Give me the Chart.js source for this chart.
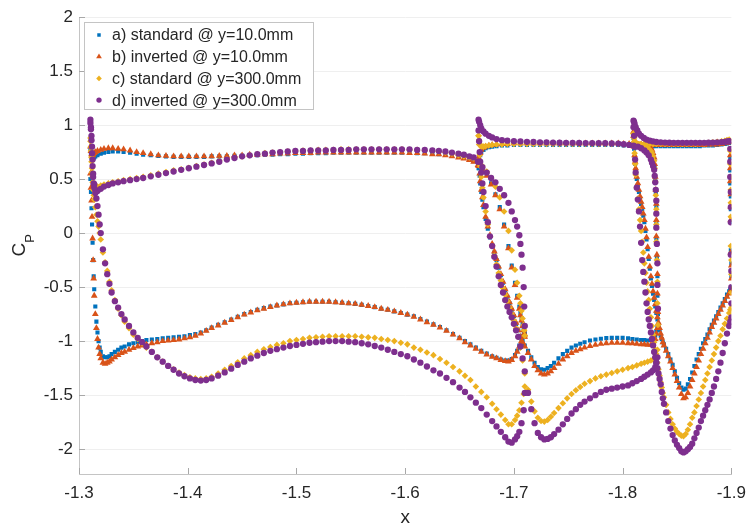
<!DOCTYPE html>
<html>
<head>
<meta charset="utf-8">
<title>Cp distribution</title>
<script src="https://cdn.jsdelivr.net/npm/chart.js@4.4.1/dist/chart.umd.min.js"></script>
<style>
  html, body { margin: 0; padding: 0; background: #ffffff; }
  #wrap { position: relative; width: 755px; height: 529px; }
</style>
</head>
<body>
<div id="wrap"><canvas id="cpChart"></canvas></div>
<script>
// Series names, colours and tick labels
const seriesLabels = [
  "a) standard @ y=10.0mm",
  "b) inverted @ y=10.0mm",
  "c) standard @ y=300.0mm",
  "d) inverted @ y=300.0mm",
];
const seriesColors = ["#0072BD", "#D95319", "#EDB120", "#7E2F8E"];
const xTicks = [-1.3, -1.4, -1.5, -1.6, -1.7, -1.8, -1.9];
const yTicks = [2, 1.5, 1, 0.5, 0, -0.5, -1, -1.5, -2];

// Main element, pressure side (upper branch in the plot)
const xMainUpper = [
  -1.3105, -1.311, -1.3115, -1.312, -1.3125, -1.313, -1.314, -1.315, -1.317, -1.320,
  -1.323, -1.327, -1.331, -1.336, -1.341, -1.347, -1.353, -1.359, -1.366, -1.373,
  -1.380, -1.387, -1.394, -1.401, -1.408, -1.415, -1.422, -1.429, -1.436, -1.443,
  -1.450, -1.457, -1.464, -1.471, -1.478, -1.485, -1.492, -1.499, -1.506, -1.513,
  -1.520, -1.527, -1.534, -1.541, -1.548, -1.555, -1.562, -1.569, -1.576, -1.583,
  -1.590, -1.597, -1.604, -1.611, -1.618, -1.625, -1.631, -1.637, -1.643, -1.649,
  -1.654, -1.659, -1.663, -1.667, -1.671, -1.675, -1.679, -1.683, -1.687, -1.691,
  -1.695, -1.698, -1.701, -1.703, -1.705, -1.706, -1.707, -1.708, -1.709, -1.7095, -1.710,
];
const cpA_mainUpper = [
  0.78, 0.74, 0.70, 0.68, 0.68, 0.69, 0.70, 0.71, 0.72, 0.735,
  0.745, 0.75, 0.755, 0.755, 0.75, 0.745, 0.735, 0.725, 0.72, 0.715,
  0.71, 0.705, 0.705, 0.705, 0.705, 0.705, 0.71, 0.71, 0.71, 0.715,
  0.715, 0.72, 0.72, 0.725, 0.725, 0.73, 0.73, 0.735, 0.735, 0.74,
  0.74, 0.74, 0.745, 0.745, 0.745, 0.745, 0.745, 0.745, 0.745, 0.745,
  0.745, 0.745, 0.745, 0.74, 0.74, 0.735, 0.73, 0.725, 0.715, 0.705,
  0.695, 0.68, 0.665, 0.64, 0.60, 0.54, 0.46, 0.36, 0.24, 0.08,
  -0.12, -0.30, -0.46, -0.58, -0.68, -0.74, -0.79, -0.84, -0.88, -0.91, -0.94,
];
const cpB_mainUpper = [
  0.80, 0.76, 0.73, 0.72, 0.72, 0.73, 0.74, 0.75, 0.76, 0.77,
  0.78, 0.785, 0.785, 0.78, 0.775, 0.765, 0.75, 0.74, 0.73, 0.72,
  0.715, 0.71, 0.71, 0.71, 0.71, 0.71, 0.71, 0.715, 0.715, 0.72,
  0.72, 0.725, 0.725, 0.73, 0.73, 0.735, 0.735, 0.74, 0.74, 0.74,
  0.745, 0.745, 0.745, 0.745, 0.745, 0.745, 0.745, 0.745, 0.745, 0.745,
  0.745, 0.745, 0.74, 0.74, 0.735, 0.73, 0.73, 0.72, 0.71, 0.70,
  0.69, 0.675, 0.66, 0.63, 0.59, 0.53, 0.45, 0.35, 0.22, 0.06,
  -0.14, -0.32, -0.48, -0.60, -0.70, -0.76, -0.81, -0.86, -0.90, -0.93, -0.96,
];
const cpC_mainUpper = [
  0.88, 0.80, 0.70, 0.60, 0.52, 0.47, 0.44, 0.43, 0.43, 0.44,
  0.45, 0.46, 0.47, 0.48, 0.49, 0.50, 0.51, 0.52, 0.535, 0.55,
  0.565, 0.58, 0.59, 0.605, 0.62, 0.635, 0.65, 0.67, 0.685, 0.70,
  0.71, 0.72, 0.73, 0.74, 0.745, 0.75, 0.755, 0.76, 0.765, 0.765,
  0.77, 0.77, 0.77, 0.775, 0.775, 0.775, 0.775, 0.775, 0.775, 0.775,
  0.775, 0.775, 0.77, 0.77, 0.765, 0.76, 0.755, 0.745, 0.735, 0.72,
  0.71, 0.70, 0.69, 0.66, 0.62, 0.57, 0.51, 0.43, 0.33, 0.20,
  0.02, -0.16, -0.34, -0.46, -0.58, -0.65, -0.72, -0.79, -0.85, -0.90, -0.95,
];
const cpD_mainUpper = [
  1.05, 0.98, 0.90, 0.80, 0.68, 0.55, 0.45, 0.40, 0.39, 0.41,
  0.43, 0.445, 0.46, 0.47, 0.48, 0.49, 0.50, 0.51, 0.525, 0.54,
  0.555, 0.57, 0.585, 0.60, 0.615, 0.63, 0.645, 0.66, 0.68, 0.695,
  0.71, 0.72, 0.73, 0.735, 0.745, 0.75, 0.755, 0.76, 0.76, 0.765,
  0.765, 0.765, 0.77, 0.77, 0.77, 0.775, 0.775, 0.775, 0.775, 0.775,
  0.775, 0.775, 0.775, 0.77, 0.77, 0.765, 0.76, 0.755, 0.745, 0.735,
  0.725, 0.71, 0.70, 0.66, 0.61, 0.56, 0.51, 0.47, 0.41, 0.35,
  0.28, 0.20, 0.12, 0.06, -0.02, -0.10, -0.20, -0.32, -0.50, -0.68, -0.86,
];

// Main element, suction side (lower branch)
const xMainLower = [
  -1.3105, -1.311, -1.3115, -1.312, -1.3125, -1.313, -1.3135, -1.314, -1.315, -1.316,
  -1.317, -1.318, -1.319, -1.320, -1.322, -1.324, -1.326, -1.328, -1.330, -1.333,
  -1.336, -1.339, -1.342, -1.346, -1.350, -1.354, -1.358, -1.362, -1.367, -1.372,
  -1.377, -1.382, -1.387, -1.392, -1.397, -1.402, -1.407, -1.412, -1.417, -1.422,
  -1.428, -1.434, -1.440, -1.446, -1.452, -1.458, -1.464, -1.470, -1.476, -1.482,
  -1.488, -1.494, -1.500, -1.506, -1.512, -1.518, -1.524, -1.530, -1.536, -1.542,
  -1.548, -1.554, -1.560, -1.566, -1.572, -1.578, -1.584, -1.590, -1.596, -1.602,
  -1.608, -1.614, -1.620, -1.626, -1.632, -1.638, -1.644, -1.650, -1.655, -1.660,
  -1.665, -1.670, -1.675, -1.680, -1.684, -1.688, -1.692, -1.695, -1.698, -1.701,
  -1.703, -1.705, -1.707, -1.709, -1.710,
];
const cpA_mainLower = [
  0.50, 0.38, 0.23, 0.08, -0.09, -0.25, -0.40, -0.52, -0.68, -0.82,
  -0.92, -1.00, -1.06, -1.10, -1.14, -1.15, -1.15, -1.14, -1.12, -1.10,
  -1.08, -1.06, -1.05, -1.03, -1.02, -1.01, -1.0, -0.99, -0.985, -0.98,
  -0.975, -0.97, -0.965, -0.96, -0.955, -0.945, -0.935, -0.92, -0.90, -0.875,
  -0.85, -0.825, -0.80, -0.775, -0.75, -0.73, -0.71, -0.695, -0.68, -0.67,
  -0.66, -0.65, -0.645, -0.64, -0.635, -0.635, -0.635, -0.635, -0.64, -0.645,
  -0.65, -0.655, -0.665, -0.675, -0.685, -0.70, -0.71, -0.725, -0.74, -0.755,
  -0.77, -0.795, -0.82, -0.845, -0.87, -0.90, -0.935, -0.97, -1.0, -1.03,
  -1.06, -1.09, -1.115, -1.14, -1.155, -1.17, -1.18, -1.18, -1.165, -1.13,
  -1.09, -1.04, -0.99, -0.95, -0.93,
];
const cpB_mainLower = [
  0.55, 0.42, 0.30, 0.15, -0.05, -0.25, -0.42, -0.58, -0.75, -0.88,
  -0.98, -1.06, -1.12, -1.16, -1.20, -1.21, -1.20, -1.19, -1.17, -1.15,
  -1.13, -1.11, -1.10, -1.08, -1.065, -1.05, -1.04, -1.03, -1.02, -1.01,
  -1.0, -0.995, -0.99, -0.985, -0.975, -0.965, -0.95, -0.93, -0.905, -0.88,
  -0.855, -0.83, -0.805, -0.78, -0.755, -0.735, -0.715, -0.70, -0.685, -0.67,
  -0.66, -0.65, -0.645, -0.64, -0.635, -0.635, -0.635, -0.635, -0.64, -0.645,
  -0.65, -0.655, -0.665, -0.675, -0.685, -0.70, -0.71, -0.725, -0.74, -0.755,
  -0.775, -0.80, -0.825, -0.85, -0.875, -0.905, -0.94, -0.975, -1.01, -1.04,
  -1.07, -1.10, -1.125, -1.145, -1.16, -1.175, -1.185, -1.19, -1.175, -1.14,
  -1.10, -1.05, -1.00, -0.96, -0.94,
];
const cpC_mainLower = [
  0.85, 0.76, 0.66, 0.56, 0.47, 0.40, 0.35, 0.31, 0.24, 0.17,
  0.11, 0.06, 0.0, -0.06, -0.18, -0.27, -0.35, -0.45, -0.53, -0.62,
  -0.70, -0.76, -0.82, -0.88, -0.94, -0.98, -1.02, -1.06, -1.10, -1.15,
  -1.19, -1.23, -1.26, -1.29, -1.315, -1.335, -1.345, -1.35, -1.345, -1.33,
  -1.30, -1.265, -1.23, -1.195, -1.16, -1.13, -1.10, -1.075, -1.055, -1.035,
  -1.02, -1.0, -0.99, -0.98, -0.97, -0.965, -0.96, -0.955, -0.955, -0.955,
  -0.955, -0.955, -0.96, -0.965, -0.97, -0.98, -0.99, -1.0, -1.015, -1.03,
  -1.06, -1.08, -1.105, -1.13, -1.165, -1.20, -1.24, -1.28, -1.32, -1.36,
  -1.42, -1.47, -1.52, -1.58, -1.63, -1.68, -1.73, -1.77, -1.77, -1.73,
  -1.69, -1.64, -1.57, -1.49, -1.42,
];
const cpD_mainLower = [
  1.02, 0.96, 0.86, 0.74, 0.62, 0.52, 0.46, 0.42, 0.37, 0.32,
  0.25, 0.17, 0.08, 0.0, -0.15, -0.28, -0.38, -0.47, -0.55, -0.63,
  -0.69, -0.75, -0.80, -0.86, -0.92, -0.97, -1.01, -1.05, -1.10, -1.15,
  -1.19, -1.23, -1.265, -1.30, -1.325, -1.345, -1.36, -1.365, -1.36, -1.345,
  -1.32, -1.29, -1.255, -1.22, -1.19, -1.16, -1.135, -1.11, -1.09, -1.075,
  -1.06, -1.045, -1.035, -1.025, -1.015, -1.01, -1.005, -1.0, -1.0, -1.0,
  -1.005, -1.01, -1.02, -1.03, -1.045, -1.06, -1.08, -1.10, -1.12, -1.14,
  -1.17, -1.20, -1.235, -1.27, -1.30, -1.34, -1.38, -1.43, -1.47, -1.52,
  -1.57, -1.62, -1.68, -1.74, -1.79, -1.84, -1.89, -1.93, -1.94, -1.91,
  -1.88, -1.84, -1.76, -1.64, -1.48,
];

// First flap, pressure side
const xFlap1Upper = [
  -1.6675, -1.668, -1.669, -1.670, -1.672, -1.674, -1.677, -1.680, -1.684, -1.689,
  -1.694, -1.700, -1.706, -1.712, -1.718, -1.724, -1.730, -1.736, -1.742, -1.748,
  -1.754, -1.760, -1.766, -1.772, -1.778, -1.784, -1.790, -1.796, -1.801, -1.806,
  -1.810, -1.814, -1.817, -1.820, -1.822, -1.824, -1.826, -1.827, -1.828, -1.829,
  -1.8295, -1.830, -1.8305, -1.831, -1.831, -1.831, -1.8315, -1.832, -1.832, -1.8325,
];
const cpA_flap1Upper = [
  0.60, 0.66, 0.72, 0.75, 0.77, 0.785, 0.795, 0.80, 0.805, 0.81,
  0.81, 0.815, 0.815, 0.815, 0.815, 0.815, 0.815, 0.815, 0.815, 0.815,
  0.815, 0.815, 0.815, 0.815, 0.815, 0.815, 0.815, 0.815, 0.81, 0.81,
  0.81, 0.81, 0.805, 0.80, 0.795, 0.79, 0.78, 0.76, 0.73, 0.69,
  0.62, 0.50, 0.38, 0.25, 0.10, -0.05, -0.22, -0.40, -0.58, -0.75,
];
const cpB_flap1Upper = [
  0.62, 0.68, 0.74, 0.77, 0.79, 0.80, 0.81, 0.815, 0.82, 0.825,
  0.825, 0.83, 0.83, 0.83, 0.83, 0.83, 0.83, 0.83, 0.83, 0.83,
  0.83, 0.83, 0.83, 0.83, 0.83, 0.83, 0.83, 0.83, 0.825, 0.825,
  0.825, 0.82, 0.82, 0.815, 0.81, 0.80, 0.79, 0.77, 0.74, 0.70,
  0.64, 0.52, 0.40, 0.27, 0.12, -0.03, -0.20, -0.38, -0.56, -0.73,
];
const cpC_flap1Upper = [
  0.90, 0.86, 0.82, 0.80, 0.80, 0.805, 0.81, 0.815, 0.82, 0.82,
  0.825, 0.825, 0.825, 0.825, 0.825, 0.825, 0.825, 0.825, 0.825, 0.825,
  0.825, 0.825, 0.825, 0.825, 0.825, 0.825, 0.825, 0.825, 0.82, 0.82,
  0.82, 0.815, 0.81, 0.80, 0.79, 0.78, 0.76, 0.74, 0.71, 0.67,
  0.60, 0.48, 0.35, 0.22, 0.08, -0.08, -0.25, -0.45, -0.65, -0.85,
];
const cpD_flap1Upper = [
  1.05, 1.03, 1.0, 0.97, 0.94, 0.92, 0.90, 0.885, 0.87, 0.86,
  0.855, 0.85, 0.848, 0.845, 0.843, 0.84, 0.84, 0.838, 0.836, 0.835,
  0.835, 0.834, 0.833, 0.833, 0.832, 0.832, 0.83, 0.828, 0.822, 0.816,
  0.81, 0.80, 0.785, 0.765, 0.745, 0.72, 0.68, 0.65, 0.62, 0.585,
  0.53, 0.47, 0.40, 0.30, 0.18, 0.05, -0.10, -0.28, -0.48, -0.70,
];

// First flap, suction side
const xFlap1Lower = [
  -1.6675, -1.668, -1.6685, -1.669, -1.670, -1.671, -1.672, -1.674, -1.676, -1.678,
  -1.680, -1.682, -1.684, -1.686, -1.688, -1.690, -1.692, -1.694, -1.696, -1.698,
  -1.700, -1.702, -1.704, -1.706, -1.708, -1.710, -1.713, -1.716, -1.719, -1.722,
  -1.725, -1.728, -1.731, -1.734, -1.737, -1.741, -1.745, -1.749, -1.753, -1.757,
  -1.761, -1.765, -1.770, -1.775, -1.780, -1.785, -1.790, -1.795, -1.800, -1.805,
  -1.809, -1.813, -1.817, -1.820, -1.823, -1.826, -1.828, -1.830, -1.831, -1.832,
];
const cpA_flap1Lower = [
  0.68, 0.60, 0.53, 0.46, 0.38, 0.31, 0.24, 0.13, 0.04, -0.04,
  -0.11, -0.18, -0.25, -0.32, -0.39, -0.46, -0.53, -0.59, -0.65, -0.71,
  -0.77, -0.84, -0.90, -0.95, -1.0, -1.04, -1.09, -1.15, -1.20, -1.24,
  -1.26, -1.265, -1.25, -1.23, -1.20, -1.16, -1.12, -1.09, -1.06, -1.04,
  -1.025, -1.01, -0.995, -0.985, -0.978, -0.972, -0.97, -0.97, -0.97, -0.975,
  -0.98, -0.985, -0.99, -0.99, -0.995, -0.99, -0.975, -0.95, -0.91, -0.87,
];
const cpB_flap1Lower = [
  0.70, 0.62, 0.55, 0.48, 0.40, 0.33, 0.26, 0.15, 0.06, -0.02,
  -0.10, -0.17, -0.24, -0.31, -0.38, -0.45, -0.52, -0.58, -0.64, -0.70,
  -0.76, -0.83, -0.90, -0.96, -1.01, -1.05, -1.11, -1.17, -1.23, -1.27,
  -1.30, -1.31, -1.30, -1.28, -1.25, -1.21, -1.17, -1.14, -1.11, -1.09,
  -1.075, -1.06, -1.045, -1.035, -1.025, -1.02, -1.015, -1.015, -1.015, -1.02,
  -1.02, -1.025, -1.03, -1.03, -1.035, -1.035, -1.02, -0.98, -0.93, -0.88,
];
const cpC_flap1Lower = [
  0.90, 0.82, 0.72, 0.62, 0.52, 0.42, 0.33, 0.20, 0.08, -0.03,
  -0.12, -0.21, -0.29, -0.37, -0.44, -0.51, -0.57, -0.63, -0.69, -0.75,
  -0.81, -0.88, -0.96, -1.06, -1.18, -1.30, -1.45, -1.56, -1.65, -1.71,
  -1.74, -1.745, -1.73, -1.70, -1.665, -1.62, -1.575, -1.53, -1.49, -1.455,
  -1.425, -1.395, -1.37, -1.345, -1.325, -1.31, -1.295, -1.28, -1.265, -1.25,
  -1.24, -1.225, -1.21, -1.20, -1.19, -1.18, -1.17, -1.15, -1.12, -1.08,
];
const cpD_flap1Lower = [
  0.95, 0.85, 0.75, 0.66, 0.56, 0.46, 0.38, 0.25, 0.10, -0.03,
  -0.12, -0.22, -0.31, -0.40, -0.48, -0.55, -0.62, -0.68, -0.73, -0.78,
  -0.84, -0.90, -0.96, -1.05, -1.16, -1.28, -1.48, -1.63, -1.76, -1.85,
  -1.89, -1.91, -1.905, -1.89, -1.86, -1.82, -1.77, -1.72, -1.67, -1.63,
  -1.59, -1.56, -1.53, -1.50, -1.47, -1.45, -1.44, -1.43, -1.42, -1.41,
  -1.39, -1.37, -1.35, -1.33, -1.31, -1.29, -1.27, -1.24, -1.20, -1.15,
];

// Second flap, pressure side
const xFlap2Upper = [
  -1.8100, -1.8105, -1.811, -1.812, -1.8135, -1.815, -1.817, -1.8195, -1.822, -1.825,
  -1.828, -1.831, -1.835, -1.839, -1.843, -1.847, -1.851, -1.855, -1.859, -1.863,
  -1.867, -1.871, -1.875, -1.879, -1.883, -1.887, -1.891, -1.894, -1.896, -1.898,
  -1.899, -1.899, -1.899, -1.8995, -1.8995, -1.8995, -1.8995, -1.900, -1.900, -1.900,
];
const cpA_flap2Upper = [
  0.90, 0.86, 0.83, 0.81, 0.805, 0.805, 0.805, 0.805, 0.805, 0.805,
  0.805, 0.805, 0.805, 0.805, 0.805, 0.805, 0.805, 0.805, 0.805, 0.805,
  0.805, 0.805, 0.81, 0.81, 0.81, 0.815, 0.82, 0.825, 0.83, 0.835,
  0.70, 0.58, 0.46, 0.34, 0.22, 0.10, -0.16, -0.28, -0.40, -0.50,
];
const cpB_flap2Upper = [
  0.94, 0.90, 0.86, 0.83, 0.82, 0.815, 0.815, 0.815, 0.815, 0.815,
  0.815, 0.815, 0.815, 0.815, 0.815, 0.815, 0.815, 0.815, 0.815, 0.815,
  0.815, 0.815, 0.815, 0.82, 0.82, 0.82, 0.825, 0.83, 0.835, 0.84,
  0.72, 0.60, 0.48, 0.36, 0.24, 0.12, -0.18, -0.30, -0.42, -0.52,
];
const cpC_flap2Upper = [
  0.92, 0.88, 0.85, 0.83, 0.825, 0.825, 0.825, 0.825, 0.825, 0.825,
  0.825, 0.825, 0.825, 0.825, 0.825, 0.825, 0.825, 0.825, 0.825, 0.825,
  0.825, 0.83, 0.83, 0.835, 0.84, 0.845, 0.85, 0.855, 0.86, 0.865,
  0.76, 0.64, 0.52, 0.40, 0.28, 0.15, -0.12, -0.25, -0.38, -0.55,
];
const cpD_flap2Upper = [
  1.04, 1.03, 1.01, 0.98, 0.95, 0.92, 0.90, 0.88, 0.865, 0.855,
  0.848, 0.843, 0.84, 0.838, 0.836, 0.835, 0.835, 0.835, 0.835, 0.835,
  0.835, 0.835, 0.835, 0.836, 0.838, 0.84, 0.842, 0.845, 0.848, 0.85,
  0.78, 0.66, 0.52, 0.38, 0.24, 0.10, -0.20, -0.35, -0.50, -0.65,
];

// Second flap, suction side
const xFlap2Lower = [
  -1.8100, -1.8105, -1.811, -1.8115, -1.812, -1.813, -1.814, -1.815, -1.816, -1.817,
  -1.818, -1.819, -1.820, -1.821, -1.822, -1.823, -1.824, -1.825, -1.826, -1.827,
  -1.828, -1.829, -1.830, -1.831, -1.832, -1.833, -1.834, -1.835, -1.836, -1.837,
  -1.838, -1.840, -1.842, -1.844, -1.846, -1.848, -1.850, -1.852, -1.854, -1.856,
  -1.858, -1.860, -1.862, -1.864, -1.866, -1.868, -1.870, -1.872, -1.874, -1.876,
  -1.878, -1.880, -1.882, -1.884, -1.886, -1.888, -1.890, -1.892, -1.894, -1.896,
  -1.898, -1.899, -1.900,
];
const cpA_flap2Lower = [
  0.88, 0.78, 0.70, 0.64, 0.58, 0.50, 0.44, 0.38, 0.32, 0.27,
  0.22, 0.16, 0.10, 0.02, -0.06, -0.15, -0.24, -0.33, -0.42, -0.49,
  -0.56, -0.62, -0.68, -0.74, -0.80, -0.85, -0.90, -0.95, -0.98, -1.01,
  -1.03, -1.07, -1.12, -1.17, -1.22, -1.28, -1.34, -1.39, -1.43, -1.45,
  -1.44, -1.40, -1.35, -1.29, -1.23, -1.17, -1.12, -1.07, -1.02, -0.98,
  -0.94, -0.89, -0.85, -0.81, -0.77, -0.73, -0.69, -0.65, -0.61, -0.57,
  -0.54, -0.52, -0.50,
];
const cpB_flap2Lower = [
  0.90, 0.80, 0.72, 0.66, 0.60, 0.52, 0.46, 0.40, 0.34, 0.29,
  0.24, 0.18, 0.12, 0.04, -0.04, -0.13, -0.22, -0.31, -0.40, -0.47,
  -0.54, -0.60, -0.66, -0.72, -0.78, -0.83, -0.88, -0.93, -0.97, -1.01,
  -1.04, -1.09, -1.14, -1.19, -1.25, -1.31, -1.37, -1.43, -1.49, -1.53,
  -1.52, -1.48, -1.42, -1.36, -1.30, -1.24, -1.18, -1.12, -1.07, -1.02,
  -0.97, -0.92, -0.87, -0.83, -0.79, -0.75, -0.71, -0.67, -0.63, -0.59,
  -0.56, -0.54, -0.52,
];
const cpC_flap2Lower = [
  0.92, 0.84, 0.74, 0.64, 0.54, 0.42, 0.32, 0.22, 0.12, 0.02,
  -0.08, -0.18, -0.28, -0.37, -0.46, -0.54, -0.62, -0.70, -0.78, -0.86,
  -0.94, -1.01, -1.08, -1.14, -1.20, -1.26, -1.32, -1.38, -1.43, -1.48,
  -1.52, -1.59, -1.66, -1.72, -1.77, -1.81, -1.84, -1.86, -1.875, -1.88,
  -1.86, -1.82, -1.77, -1.71, -1.66, -1.60, -1.54, -1.48, -1.42, -1.36,
  -1.30, -1.24, -1.18, -1.12, -1.06, -1.0, -0.95, -0.89, -0.84, -0.79,
  -0.74, -0.71, -0.69,
];
const cpD_flap2Lower = [
  0.98, 0.90, 0.80, 0.68, 0.56, 0.42, 0.31, 0.20, 0.06, -0.09,
  -0.25, -0.36, -0.45, -0.55, -0.65, -0.73, -0.80, -0.86, -0.92, -0.98,
  -1.04, -1.10, -1.15, -1.20, -1.25, -1.30, -1.35, -1.40, -1.47, -1.53,
  -1.58, -1.66, -1.74, -1.81, -1.87, -1.92, -1.96, -1.99, -2.02, -2.03,
  -2.02, -2.0, -1.98, -1.95, -1.90, -1.85, -1.80, -1.74, -1.69, -1.64,
  -1.59, -1.54, -1.48, -1.42, -1.35, -1.28, -1.20, -1.11, -1.02, -0.93,
  -0.86, -0.82, -0.78,
];

// Join x positions with Cp values of one series, segment by segment
function buildSeries(segments) {
  const points = [];
  segments.forEach(([xs, ys]) => {
    if (xs.length !== ys.length) {
      console.warn("length mismatch", xs.length, ys.length);
    }
    xs.forEach((x, i) => {
      if (ys[i] !== undefined) points.push({ x: x, y: ys[i] });
    });
  });
  return points;
}

const markerStyles = [
  { pointStyle: "rect", radius: 2.9 },
  { pointStyle: "triangle", radius: 3.9 },
  { pointStyle: "rectRot", radius: 3.3 },
  { pointStyle: "circle", radius: 3.15 },
];

const seriesData = [
  buildSeries([
    [xMainUpper, cpA_mainUpper], [xMainLower, cpA_mainLower],
    [xFlap1Upper, cpA_flap1Upper], [xFlap1Lower, cpA_flap1Lower],
    [xFlap2Upper, cpA_flap2Upper], [xFlap2Lower, cpA_flap2Lower],
  ]),
  buildSeries([
    [xMainUpper, cpB_mainUpper], [xMainLower, cpB_mainLower],
    [xFlap1Upper, cpB_flap1Upper], [xFlap1Lower, cpB_flap1Lower],
    [xFlap2Upper, cpB_flap2Upper], [xFlap2Lower, cpB_flap2Lower],
  ]),
  buildSeries([
    [xMainUpper, cpC_mainUpper], [xMainLower, cpC_mainLower],
    [xFlap1Upper, cpC_flap1Upper], [xFlap1Lower, cpC_flap1Lower],
    [xFlap2Upper, cpC_flap2Upper], [xFlap2Lower, cpC_flap2Lower],
  ]),
  buildSeries([
    [xMainUpper, cpD_mainUpper], [xMainLower, cpD_mainLower],
    [xFlap1Upper, cpD_flap1Upper], [xFlap1Lower, cpD_flap1Lower],
    [xFlap2Upper, cpD_flap2Upper], [xFlap2Lower, cpD_flap2Lower],
  ]),
];

const FONT = '"Liberation Sans", Arial, Helvetica, sans-serif';
const TEXT_COLOR = "#262626";

// Draws a marker, using the Chart.js helper when it is there
function drawMarker(ctx, style, radius, x, y, color) {
  ctx.fillStyle = color;
  if (Chart.helpers && Chart.helpers.drawPoint) {
    Chart.helpers.drawPoint(ctx, { pointStyle: style, radius: radius, borderWidth: 0, rotation: 0 }, x, y);
    return;
  }
  ctx.beginPath();
  ctx.arc(x, y, radius, 0, Math.PI * 2);
  ctx.fill();
}

// Inner tick marks, Cp label and the boxed legend in the top-left corner
const matlabDecor = {
  id: "matlabDecor",
  beforeDatasetsDraw(chart) {
    const { ctx, chartArea, scales } = chart;
    ctx.save();
    ctx.strokeStyle = "#a8a8a8";
    ctx.lineWidth = 1;
    ctx.beginPath();
    scales.x.ticks.forEach((t) => {
      const px = Math.round(scales.x.getPixelForValue(t.value)) + 0.5;
      ctx.moveTo(px, chartArea.bottom);
      ctx.lineTo(px, chartArea.bottom - 6);
    });
    scales.y.ticks.forEach((t) => {
      const py = Math.round(scales.y.getPixelForValue(t.value)) + 0.5;
      ctx.moveTo(chartArea.left, py);
      ctx.lineTo(chartArea.left + 6, py);
    });
    ctx.stroke();
    ctx.restore();
  },
  afterDraw(chart) {
    const { ctx, chartArea } = chart;

    // y label: C with subscript P, rotated
    ctx.save();
    ctx.translate(25, (chartArea.top + chartArea.bottom) / 2);
    ctx.rotate(-Math.PI / 2);
    ctx.fillStyle = TEXT_COLOR;
    ctx.textBaseline = "alphabetic";
    ctx.textAlign = "left";
    ctx.font = "19px " + FONT;
    const cWidth = ctx.measureText("C").width;
    ctx.fillText("C", -11, 0);
    ctx.font = "13px " + FONT;
    ctx.fillText("P", -11 + cWidth, 9);
    ctx.restore();

    // legend
    const box = { x: 84.5, y: 22.5, w: 229, h: 87 };
    ctx.save();
    ctx.fillStyle = "#ffffff";
    ctx.fillRect(box.x, box.y, box.w, box.h);
    ctx.strokeStyle = "#c4c4c4";
    ctx.lineWidth = 1;
    ctx.strokeRect(box.x, box.y, box.w, box.h);
    ctx.font = "16px " + FONT;
    ctx.textBaseline = "middle";
    ctx.textAlign = "left";
    chart.data.datasets.forEach((ds, i) => {
      const cy = 35 + i * 21.7;
      const m = markerStyles[i];
      drawMarker(ctx, m.pointStyle, m.radius * 0.85, 99, cy, seriesColors[i]);
      ctx.fillStyle = TEXT_COLOR;
      ctx.fillText(ds.label, 112, cy + 1);
    });
    ctx.restore();
  },
};

document.addEventListener("DOMContentLoaded", () => {
  const canvas = document.getElementById("cpChart");
  const datasets = seriesLabels.map((label, i) => ({
    label: label,
    data: seriesData[i],
    pointStyle: markerStyles[i].pointStyle,
    pointRadius: markerStyles[i].radius,
    pointHoverRadius: markerStyles[i].radius,
    pointBackgroundColor: seriesColors[i],
    pointBorderWidth: 0,
    backgroundColor: seriesColors[i],
    showLine: false,
    order: seriesLabels.length - i, // last series drawn on top
  }));

  new Chart(canvas, {
    type: "scatter",
    data: { datasets: datasets },
    plugins: [matlabDecor],
    options: {
      responsive: true,
      maintainAspectRatio: false,
      animation: false,
      layout: { padding: { top: 17, right: 19, left: 0, bottom: 0 } },
      plugins: {
        legend: { display: false },
        tooltip: { enabled: false },
      },
      scales: {
        x: {
          type: "linear",
          reverse: true,
          min: -1.9,
          max: -1.3,
          afterBuildTicks: (axis) => {
            axis.ticks = xTicks.map((v) => ({ value: v }));
          },
          afterFit: (scale) => {
            scale.height = 55;
          },
          grid: { color: "rgba(0,0,0,0)", drawTicks: false },
          border: { display: true, color: "#c4c4c4", width: 1 },
          ticks: {
            padding: 9,
            color: TEXT_COLOR,
            font: { family: FONT, size: 17 },
            callback: (v) => Number(v).toFixed(1),
          },
          title: {
            display: true,
            text: "x",
            color: TEXT_COLOR,
            font: { family: FONT, size: 19 },
            padding: { top: 0, bottom: 0 },
          },
        },
        y: {
          type: "linear",
          min: -2.23,
          max: 2,
          afterBuildTicks: (axis) => {
            axis.ticks = yTicks.map((v) => ({ value: v }));
          },
          afterFit: (scale) => {
            scale.width = 79;
          },
          grid: { color: "#efefef", drawTicks: false },
          border: { display: true, color: "#c4c4c4", width: 1 },
          ticks: {
            padding: 6,
            color: TEXT_COLOR,
            font: { family: FONT, size: 17 },
            callback: (v) => String(Number(Number(v).toFixed(1))),
          },
        },
      },
    },
  });
});
</script>
</body>
</html>
